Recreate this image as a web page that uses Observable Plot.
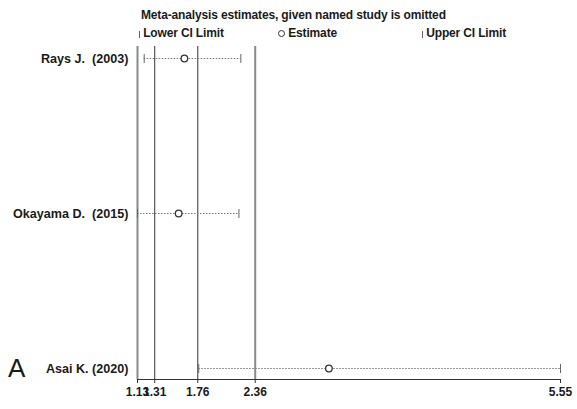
<!DOCTYPE html>
<html><head><meta charset="utf-8">
<script src="https://cdn.jsdelivr.net/npm/d3@7"></script>
<script src="https://cdn.jsdelivr.net/npm/@observablehq/plot@0.6"></script>
<style>
body{margin:0;background:#fff;}
#wrap{position:relative;width:577px;height:409px;font-family:"Liberation Sans",Arial,sans-serif;color:#1a1a1a;}
#chart{position:absolute;left:0;top:0;}
.t{position:absolute;white-space:pre;font-size:12px;font-weight:bold;line-height:14px;letter-spacing:-0.15px;}
.bar{display:inline-block;width:1px;height:7px;background:#666;vertical-align:-1px;}
.circ{display:inline-block;width:5px;height:5px;border:1.2px solid #333;border-radius:50%;vertical-align:0px;}
</style></head><body>
<div id="wrap">
<div id="chart"></div>
<div class="t" style="left:141px;top:8px">Meta-analysis estimates, given named study is omitted</div>
<div class="t" style="left:139px;top:26px"><span class="bar"></span> Lower CI Limit</div>
<div class="t" style="left:278px;top:26px"><span class="circ"></span> Estimate</div>
<div class="t" style="left:422px;top:26px"><span class="bar"></span> Upper CI Limit</div>
<div class="t" style="left:8px;top:353px;font-size:26px;font-weight:normal;line-height:30px;letter-spacing:0">A</div>
</div>
<script>
const studies = ["Rays J.\u00a0\u00a0(2003)", "Okayama D.\u00a0\u00a0(2015)", "Asai K. (2020)"];
const estimate = [1.62, 1.56, 3.13];
const lower = [1.20, 1.13, 1.77];
const upper = [2.21, 2.19, 5.55];
const tickValues = [1.13, 1.31, 1.76, 2.36, 5.55];
const overallLower = 1.31, overallEstimate = 1.76, overallUpper = 2.36;
const xMin = 1.13, xMax = 5.55;

const data = studies.map((s, i) => ({study: s, est: estimate[i], lo: lower[i], hi: upper[i]}));

// vertical bar symbol for CI limits
const vbar = {draw(context, size) { const h = Math.sqrt(size / Math.PI); context.moveTo(0, -h); context.lineTo(0, h); }};

const chart = Plot.plot({
  width: 577, height: 409,
  marginLeft: 137, marginRight: 17, marginTop: 46, marginBottom: 30,
  style: {fontFamily: "'Liberation Sans', Arial, sans-serif", fontSize: "12px", fontWeight: "bold", color: "#1a1a1a", background: "transparent"},
  x: {domain: [xMin, xMax]},
  y: {type: "point", domain: studies, padding: 0.074},
  marks: [
    Plot.ruleX([xMin, overallUpper], {stroke: "#8a8a8a", strokeWidth: 2}),
    Plot.ruleX([overallLower, overallEstimate], {stroke: "#333", strokeWidth: 1}),
    Plot.ruleY(data, {y: "study", x1: "lo", x2: "hi", stroke: "#777", strokeDasharray: "1.5,1.5"}),
    Plot.dot(data, {x: "lo", y: "study", symbol: vbar, r: 4.5, stroke: "#666", fill: "none", strokeWidth: 1}),
    Plot.dot(data, {x: "hi", y: "study", symbol: vbar, r: 4.5, stroke: "#666", fill: "none", strokeWidth: 1}),
    Plot.dot(data, {x: "est", y: "study", r: 3.3, stroke: "#333", fill: "white", strokeWidth: 1.3}),
    Plot.frame({anchor: "bottom", stroke: "#333", strokeWidth: 1.2}),
    Plot.axisX({ticks: tickValues, tickFormat: d => d.toFixed(2), tickSize: 4, tickPadding: 4, label: null, stroke: "#333"}),
    Plot.axisY({tickSize: 0, tickPadding: 9, label: null, fontSize: 12.6})
  ]
});
document.getElementById("chart").appendChild(chart);
</script>
</body></html>
